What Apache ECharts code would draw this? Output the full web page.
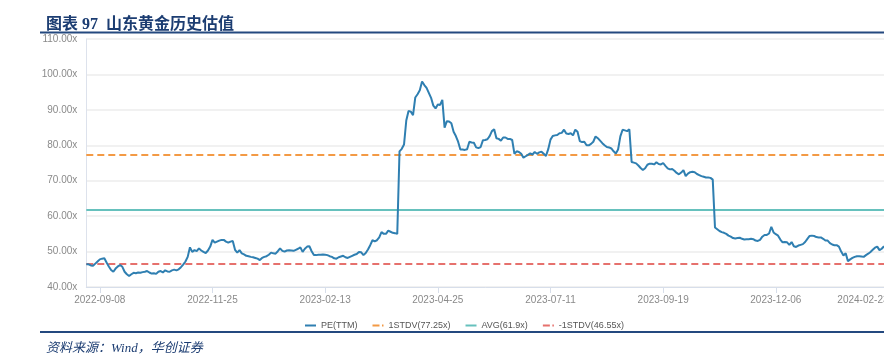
<!DOCTYPE html>
<html>
<head>
<meta charset="utf-8">
<script src="https://cdn.jsdelivr.net/npm/echarts@6/dist/echarts.min.js"></script>
<style>
html,body{margin:0;padding:0;background:#fff;}
#chart{width:884px;height:355px;}
</style>
</head>
<body>
<div id="chart"></div>
<script>
// ---- data ----
const titleText = '图表 97  山东黄金历史估值';
const sourceText = '资料来源：Wind，华创证券';
const startDate = '2022-08-31';
const endDate = '2024-02-23';
const holidays = ['2022-09-12','2022-10-03','2022-10-04','2022-10-05','2022-10-06','2022-10-07',
  '2023-01-02','2023-01-23','2023-01-24','2023-01-25','2023-01-26','2023-01-27','2023-04-05',
  '2023-05-01','2023-05-02','2023-05-03','2023-06-22','2023-06-23','2023-09-29','2023-10-02',
  '2023-10-03','2023-10-04','2023-10-05','2023-10-06','2024-01-01','2024-02-09','2024-02-12',
  '2024-02-13','2024-02-14','2024-02-15','2024-02-16'];
const firstLabelIndex = 6;
const labelStep = 50;
const seriesNames = ['PE(TTM)', '1STDV(77.25x)', 'AVG(61.9x)', '-1STDV(46.55x)'];
const stdvUp = 77.25;
const avgValue = 61.9;
const stdvDown = 46.55;
const yTicks = [40, 50, 60, 70, 80, 90, 100, 110];
const peValues = [
  46.4,46.4,46.1,46.0,46.6,47.2,47.8,48.0,48.1,46.9,
  45.8,44.8,44.3,45.2,45.8,46.2,45.7,44.3,43.6,43.1,
  43.6,44.0,43.9,44.1,44.0,44.2,44.3,44.5,44.1,43.8,
  43.9,43.7,44.3,44.5,44.1,44.7,44.4,44.3,44.7,44.9,
  44.7,45.0,45.6,46.3,47.2,48.5,51.2,49.9,50.4,50.1,
  50.9,50.3,49.9,49.6,50.3,51.4,53.3,52.5,52.8,53.1,
  53.3,53.3,52.8,52.5,52.8,53.0,50.5,49.7,50.4,49.5,
  49.2,48.8,48.7,48.5,48.4,48.2,48.0,47.6,48.2,48.5,
  48.7,49.1,49.7,49.5,49.4,50.1,50.9,50.2,50.0,50.3,
  50.4,50.3,50.2,50.5,50.8,51.2,49.9,50.8,51.4,51.5,
  50.1,49.0,49.0,49.1,49.1,49.2,49.1,49.0,48.7,48.5,
  48.1,48.0,48.4,48.6,48.8,48.4,48.2,48.5,48.8,49.1,
  49.3,49.9,49.8,49.0,49.6,50.6,51.8,53.2,52.9,53.2,
  54.0,55.5,55.0,55.0,55.9,55.6,55.3,55.2,55.0,78.3,
  79.0,80.2,87.0,89.7,89.5,88.5,93.5,94.4,95.5,98.0,
  97.0,96.2,94.8,93.4,91.2,90.4,91.5,91.4,92.8,85.0,
  86.8,86.7,86.2,83.8,82.6,81.0,78.8,78.8,78.7,78.9,
  81.0,80.8,80.7,79.4,79.2,79.5,81.4,81.5,81.7,82.6,
  84.0,84.5,82.0,81.8,81.3,82.2,82.2,81.8,81.8,81.5,
  77.6,78.3,78.1,77.6,76.5,76.9,77.3,77.7,77.4,78.1,
  77.6,78.0,78.2,77.6,77.0,78.9,81.6,82.6,82.8,82.9,
  83.4,83.5,84.4,83.3,83.2,83.4,82.8,84.4,83.8,81.2,
  80.9,81.0,80.0,80.0,80.4,81.0,82.5,82.0,81.3,80.6,
  80.0,79.5,79.4,79.1,78.3,77.7,78.8,82.5,84.4,84.2,
  84.0,84.5,75.3,75.1,74.9,74.3,73.6,73.0,73.5,74.5,
  74.8,74.8,74.6,75.2,74.7,74.6,75.0,74.2,73.5,73.2,
  73.3,72.8,72.2,71.8,72.3,73.0,71.3,72.0,72.4,72.5,
  72.4,71.9,71.6,71.3,71.1,70.9,70.9,70.8,70.3,56.8,
  56.3,55.8,55.5,55.3,55.0,54.5,54.2,53.8,53.7,53.8,
  53.9,53.6,53.4,53.5,53.5,53.6,53.5,53.1,53.0,53.3,
  54.2,54.7,54.7,55.1,57.0,55.4,54.9,54.5,53.4,52.6,
  52.7,52.6,51.9,52.7,51.5,51.3,51.7,51.9,52.1,52.7,
  53.6,54.4,54.5,54.4,54.1,54.0,54.0,53.6,53.1,53.1,
  52.4,52.0,51.8,51.8,51.4,50.0,48.9,49.5,47.3,47.8,
  48.2,48.5,48.7,48.7,48.6,48.5,49.0,49.4,49.9,50.5,
  51.1,51.4,50.4,50.8,51.5
];

// trading-day categories
const dates = [];
(function () {
  const hs = new Set(holidays);
  const d = new Date(startDate + 'T00:00:00Z');
  const end = new Date(endDate + 'T00:00:00Z');
  while (d <= end) {
    const wd = d.getUTCDay();
    const s = d.toISOString().slice(0, 10);
    if (wd !== 0 && wd !== 6 && !hs.has(s)) dates.push(s);
    d.setUTCDate(d.getUTCDate() + 1);
  }
})();

const colors = ['#2f7fb1', '#f39a45', '#66c1bd', '#e6716d'];
const navy = '#1c3d72';
const labelFont = '"Liberation Sans", Arial, sans-serif';
const solidIcon = 'path://M0,0H11V2H0Z';
const dashIcon = 'path://M0,0H7V2H0Z M9.5,0H11V2H9.5Z';
const showLabel = function (index) {
  return index >= firstLabelIndex && (index - firstLabelIndex) % labelStep === 0;
};

const chart = echarts.init(document.getElementById('chart'), null, { renderer: 'canvas' });
chart.setOption({
  animation: false,
  backgroundColor: '#ffffff',
  title: [
    {
      text: titleText, left: 41, top: 12,
      textStyle: { fontSize: 16, fontWeight: 'bold', color: navy,
        fontFamily: '"Liberation Serif", "Noto Sans CJK SC", serif' }
    },
    {
      text: sourceText, left: 41, top: 337,
      textStyle: { fontSize: 13, fontWeight: 'normal', fontStyle: 'italic', color: navy,
        fontFamily: '"Liberation Serif", "Noto Sans CJK SC", serif' }
    }
  ],
  graphic: [
    { type: 'rect', shape: { x: 40, y: 31.5, width: 844, height: 2 }, style: { fill: '#24497f' }, silent: true },
    { type: 'rect', shape: { x: 40, y: 331, width: 844, height: 2 }, style: { fill: '#24497f' }, silent: true }
  ],
  legend: {
    left: 300, top: 316, itemWidth: 11, itemHeight: 2, itemGap: 15, symbolKeepAspect: false,
    textStyle: { fontSize: 9, color: '#555', fontFamily: labelFont },
    data: [
      { name: seriesNames[0], icon: solidIcon },
      { name: seriesNames[1], icon: dashIcon },
      { name: seriesNames[2], icon: solidIcon },
      { name: seriesNames[3], icon: dashIcon }
    ]
  },
  grid: { left: 86.3, right: -4.5, top: 39, bottom: 68, containLabel: false, outerBoundsMode: 'none' },
  xAxis: {
    type: 'category', data: dates, boundaryGap: false,
    axisLine: { lineStyle: { color: '#d7deea', width: 1 } },
    axisTick: { show: true, length: 6, interval: showLabel, lineStyle: { color: '#d7deea' } },
    axisLabel: {
      interval: showLabel, fontSize: 10, color: '#8a8a8a', margin: 8,
      fontFamily: labelFont, alignMaxLabel: 'right', showMaxLabel: true
    },
    splitLine: { show: false }
  },
  yAxis: {
    type: 'value', min: yTicks[0], max: yTicks[yTicks.length - 1], interval: 10,
    axisLine: { show: true, lineStyle: { color: '#dde2ec', width: 1 } },
    axisTick: { show: false },
    axisLabel: {
      fontSize: 10, color: '#8a8a8a', margin: 9, fontFamily: labelFont,
      formatter: function (v) { return v.toFixed(2) + 'x'; }
    },
    splitLine: { lineStyle: { color: '#ececec', width: 1.5 } }
  },
  series: [
    {
      name: seriesNames[0], type: 'line', data: peValues, showSymbol: false, symbol: 'none',
      lineStyle: { color: colors[0], width: 2 }, itemStyle: { color: colors[0] }, z: 5
    },
    {
      name: seriesNames[1], type: 'line', data: [], symbol: 'none',
      lineStyle: { color: colors[1], width: 2, type: [7, 4] }, itemStyle: { color: colors[1] },
      markLine: { silent: true, symbol: ['none', 'none'], label: { show: false },
        lineStyle: { color: colors[1], width: 2, type: [7, 4] }, data: [{ yAxis: stdvUp }] }
    },
    {
      name: seriesNames[2], type: 'line', data: [], symbol: 'none',
      lineStyle: { color: colors[2], width: 2 }, itemStyle: { color: colors[2] },
      markLine: { silent: true, symbol: ['none', 'none'], label: { show: false },
        lineStyle: { color: colors[2], width: 1.8, type: 'solid' }, data: [{ yAxis: avgValue }] }
    },
    {
      name: seriesNames[3], type: 'line', data: [], symbol: 'none',
      lineStyle: { color: colors[3], width: 2, type: [7, 4] }, itemStyle: { color: colors[3] },
      markLine: { silent: true, symbol: ['none', 'none'], label: { show: false },
        lineStyle: { color: colors[3], width: 2, type: [7, 4] }, data: [{ yAxis: stdvDown }] }
    }
  ]
});
</script>
</body>
</html>
